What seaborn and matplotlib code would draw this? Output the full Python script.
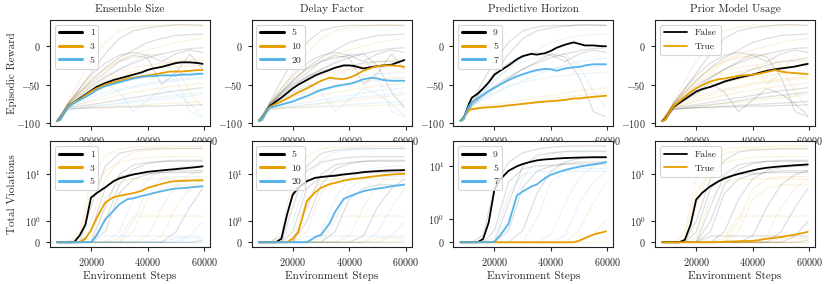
import matplotlib
matplotlib.use("Agg")

import matplotlib.pyplot as plt
import numpy as np
import pandas as pd
import seaborn as sns
from matplotlib.lines import Line2D
from matplotlib.ticker import FixedFormatter, FixedLocator, NullLocator


PALETTE = ["#000000", "#E69F00", "#56B4E9"]

TITLES = ["Ensemble Size", "Delay Factor", "Predictive Horizon", "Prior Model Usage"]
HUE_ORDERS = [["1", "3", "5"], ["5", "10", "20"], ["9", "5", "7"], ["False", "True"]]

# grille des courbes moyennes
MEAN_STEPS = [8000, 9000, 10000, 11000, 12000, 14000, 16000, 18000, 20000, 22000,
              25000, 28000, 30000, 33000, 35000, 38000, 40000, 42000, 45000, 48000,
              50000, 52000, 55000, 58000, 59500]

REWARD_ENSEMBLE = {
    "1": [-97, -96, -90, -83, -78, -73, -68, -63, -58, -53, -48, -44, -42, -39, -37, -34, -31, -29, -27, -24, -22, -21, -21, -22, -23],
    "3": [-97, -96, -90, -83, -78, -73, -69, -64, -59, -55, -50, -47, -45, -42, -41, -39, -38, -37, -35, -33, -33, -33, -32, -31, -31],
    "5": [-97, -96, -90, -83, -79, -74, -70, -66, -62, -57, -52, -49, -47, -44, -42, -40, -39, -39, -38, -38, -38, -37, -37, -36, -36],
}
REWARD_DELAY = {
    "5": [-97, -96, -90, -83, -78, -72, -67, -61, -55, -50, -44, -38, -35, -31, -28, -25, -25, -26, -29, -27, -26, -25, -24, -20, -18],
    "10": [-97, -96, -90, -83, -79, -75, -72, -68, -64, -60, -55, -49, -45, -41, -42, -43, -41, -38, -32, -28, -26, -25, -25, -26, -27],
    "20": [-97, -96, -90, -83, -80, -78, -76, -74, -72, -69, -65, -60, -57, -54, -52, -50, -49, -47, -43, -41, -42, -44, -45, -45, -45],
}
REWARD_HORIZON = {
    "9": [-97, -95, -85, -75, -67, -62, -55, -47, -37, -32, -25, -17, -13, -10, -11, -9, -6, -2, 2, 5, 3, 1, 1, 0, 0],
    "5": [-97, -95, -88, -83, -82, -81, -80, -79.5, -79, -78.5, -77, -76, -75, -74, -73, -72, -71.5, -71, -70, -68, -68, -67, -66, -65, -64.5],
    "7": [-97, -95, -86, -78, -73, -68, -63, -58, -54, -50, -44, -39, -36.5, -33, -31, -29.5, -30, -32, -29, -27.5, -27, -25, -23.5, -23.5, -23.5],
}
REWARD_PRIOR = {
    "False": [-97, -96, -90, -83, -79, -74, -69, -64, -59, -56, -53, -49, -46, -43, -41, -38.5, -37, -35, -32, -30, -29, -28, -26.5, -24, -23],
    "True": [-97, -96, -90, -83, -78, -72, -66, -60, -55, -51, -46, -43, -42, -40, -38.5, -37.5, -37, -36, -33.5, -31, -33, -34, -35, -36, -36.5],
}

VIOL_ENSEMBLE = {
    "1": [0, 0, 0, 0, 0, 0, 0.33, 0.83, 3.2, 4.0, 5.3, 7.2, 8.2, 9.3, 10, 10.8, 11.4, 11.7, 12.2, 12.7, 13, 13.4, 13.9, 14.5, 14.9],
    "3": [0, 0, 0, 0, 0, 0, 0, 0.17, 0.58, 1.18, 2.5, 3.3, 3.5, 3.8, 4.0, 4.5, 5.2, 5.6, 6.3, 7.0, 7.2, 7.3, 7.4, 7.5, 7.5],
    "5": [0, 0, 0, 0, 0, 0, 0, 0, 0, 0.33, 1.1, 1.7, 2.3, 3.0, 3.1, 3.5, 3.7, 4.0, 4.4, 4.8, 5.0, 5.1, 5.3, 5.5, 5.6],
}
VIOL_DELAY = {
    "5": [0, 0, 0, 0, 0, 0, 0.17, 1.4, 3.7, 5.2, 7.2, 8.5, 8.8, 9.2, 9.4, 10, 10.3, 10.6, 11.2, 11.6, 11.8, 12, 12.2, 12.3, 12.4],
    "10": [0, 0, 0, 0, 0, 0, 0, 0, 0.17, 0.5, 2.7, 4.2, 5.2, 6.2, 6.6, 7.4, 7.8, 8.1, 8.5, 9.0, 9.3, 9.6, 10, 10.2, 10.3],
    "20": [0, 0, 0, 0, 0, 0, 0, 0, 0, 0, 0, 0.25, 0.35, 0.9, 1.6, 3.0, 3.4, 3.8, 4.4, 4.8, 5.0, 5.2, 5.6, 5.9, 6.1],
}
VIOL_HORIZON = {
    "9": [0, 0, 0, 0, 0, 0, 0.14, 0.86, 3.6, 5.6, 8.2, 10, 11, 12.2, 12.9, 13.5, 13.7, 14, 14.3, 14.5, 14.6, 14.7, 14.8, 14.8, 14.8],
    "5": [0, 0, 0, 0, 0, 0, 0, 0, 0, 0, 0, 0, 0, 0, 0, 0, 0, 0, 0, 0, 0.07, 0.18, 0.33, 0.42, 0.47],
    "7": [0, 0, 0, 0, 0, 0, 0, 0, 0.03, 0.29, 0.79, 2.8, 3.3, 4.1, 4.5, 6.0, 6.9, 7.5, 8.5, 9.3, 9.8, 10.2, 10.8, 11.5, 12],
}
VIOL_PRIOR = {
    "False": [0, 0, 0, 0, 0, 0, 0.12, 0.83, 2.9, 4.0, 5.6, 7.2, 8.2, 9.5, 10.3, 11.4, 12.2, 13, 13.9, 14.5, 14.9, 15.2, 15.7, 16.1, 16.4],
    "True": [0, 0, 0, 0, 0, 0, 0, 0, 0, 0, 0, 0.01, 0.03, 0.04, 0.05, 0.06, 0.07, 0.1, 0.17, 0.22, 0.25, 0.3, 0.37, 0.45, 0.5],
}

# runs individuels (fond transparent)
BG_STEPS = [8000, 10000, 12000, 16000, 20000, 25000, 30000, 35000, 40000, 45000, 50000, 55000, 59500]

RUN_ENSEMBLE = ["3", "1", "1", "3", "5", "1", "3", "1", "5", "3", "5", "1", "3", "5", "3", "1",
                "5", "3", "1", "5", "3", "5"]
RUN_DELAY = ["5", "10", "5", "10", "20", "5", "10", "20", "10", "20", "20", "5", "10", "20", "5", "10",
             "20", "10", "5", "20", "5", "10"]
RUN_HORIZON = ["9", "9", "7", None, "9", None, "7", "5", "5", None, "7", "9", None, None, "7", None,
               None, "7", "9", "5", None, None]
RUN_PRIOR = ["True", "False", "False", "True", "False", "True", "False", "False", "True", "False",
             "True", "False", "True", "False", "True", "False",
             "True", "True", "False", "False", "True", "True"]

RUN_REWARDS = [
    [-97, -88, -72, -45, -20, 5, 20, 25, 27, 27, 27, 27, 27],
    [-97, -86, -75, -55, -35, -10, 10, 20, 24, 26, 28, 28, 27],
    [-97, -88, -76, -60, -45, -28, -15, -5, 5, 10, 14, 15, 16],
    [-97, -86, -74, -58, -42, -30, -18, -10, -5, 0, 5, 8, 10],
    [-97, -88, -77, -65, -55, -42, -30, -20, -10, -14, -40, -85, -92],
    [-97, -85, -74, -60, -48, -35, -20, -12, -15, -50, -35, -10, -30],
    [-97, -88, -78, -70, -62, -52, -45, -38, -30, -25, -20, -18, -15],
    [-97, -89, -80, -78, -76, -73, -70, -67, -64, -61, -58, -56, -54],
    [-97, -89, -81, -80, -79, -77, -75, -73, -71, -69, -67, -65, -63],
    [-97, -90, -82, -81, -80, -79, -78, -77, -76, -75, -74, -73, -72],
    [-97, -88, -78, -68, -60, -52, -47, -43, -40, -38, -36, -35, -34],
    [-97, -87, -76, -64, -52, -40, -30, -22, -15, -10, -6, -3, -2],
    [-97, -89, -80, -76, -72, -68, -64, -60, -57, -54, -52, -50, -48],
    [-97, -88, -79, -70, -60, -48, -60, -85, -70, -55, -62, -75, -90],
    [-97, -87, -75, -60, -45, -30, -20, -15, -12, -10, -25, -60, -80],
    [-97, -90, -82, -81, -80, -80, -79, -79, -78, -78, -77, -77, -76],
    [-97, -89, -80, -75, -70, -64, -58, -54, -50, -47, -45, -43, -42],
    [-97, -88, -78, -66, -55, -45, -38, -33, -30, -28, -27, -26, -25],
    [-97, -87, -74, -55, -38, -22, -12, -8, -12, -20, -10, -5, -8],
    [-97, -90, -82, -80, -78, -76, -74, -71, -68, -66, -64, -62, -60],
    [-97, -88, -76, -62, -50, -40, -32, -28, -25, -22, -20, -20, -19],
    [-97, -89, -79, -72, -66, -60, -56, -52, -48, -45, -43, -41, -40],
]
RUN_VIOLATIONS = [
    [0, 0, 0, 0.3, 4, 12, 18, 21, 23, 24, 24, 24, 24],
    [0, 0, 0, 0, 0, 0.5, 4, 8, 10, 11, 12, 12, 12],
    [0, 0, 0, 0, 0, 1, 6, 13, 17, 19, 20, 20, 20],
    [0, 0, 0, 0.5, 8, 25, 35, 38, 39, 40, 40, 40, 40],
    [0, 0, 0, 0, 0, 0, 0.5, 3, 8, 12, 14, 15, 15],
    [0, 0, 0, 0, 2, 15, 28, 33, 35, 36, 36, 36, 36],
    [0, 0, 0, 0, 0, 0, 0, 0, 0.3, 2, 6, 10, 12],
    [0, 0, 0, 0, 0, 0, 0, 0, 0, 0, 0.5, 2, 5],
    [0, 0, 0, 0, 0, 0, 0, 0, 0, 0, 0, 0, 0],
    [0, 0, 0, 0, 1, 8, 20, 30, 33, 34, 35, 35, 35],
    [0, 0, 0, 0, 0, 0, 0, 1, 5, 8, 9, 9, 9],
    [0, 0, 0, 0, 0.5, 5, 9, 10, 10.5, 11, 11, 11, 11],
    [0, 0, 0, 0, 0, 0, 0.2, 1.3, 1.3, 1.3, 1.3, 1.3, 1.3],
    [0, 0, 0, 0, 0, 0.3, 0.3, 0.3, 0.3, 0.3, 0.3, 0.3, 0.3],
    [0, 0, 0, 0, 0, 0, 0, 0, 0, 0.3, 2, 5, 8],
    [0, 0, 0, 0, 0, 0, 0, 0, 0, 0, 0, 0, 0.1],
    [0, 0, 0, 0, 0, 0, 0, 0, 0, 0, 0, 0, 0],
    [0, 0, 0, 0, 0.2, 3, 7, 8, 8, 8, 8, 8, 8],
    [0, 0, 0, 0, 0, 2, 10, 16, 18, 19, 19, 19, 19],
    [0, 0, 0, 0, 0, 0, 0, 0, 0, 0, 0, 0.3, 1],
    [0, 0, 0, 0, 0, 0, 0, 0.5, 3, 5, 6, 6, 6],
    [0, 0, 0, 0, 0, 0, 0, 0, 0, 0, 0.2, 0.2, 0.2],
]


def mean_frame(curves):
    rows = []
    for label, values in curves.items():
        for step, value in zip(MEAN_STEPS, values):
            rows.append({"step": step, "value": value, "group": label})
    return pd.DataFrame(rows)


def background_frame(runs, groups):
    rows = []
    for run_id, (values, group) in enumerate(zip(runs, groups)):
        if group is None:
            continue
        for step, value in zip(BG_STEPS, values):
            rows.append({"step": step, "value": value, "group": group, "run": run_id})
    return pd.DataFrame(rows)


def draw_panel(ax, curves, runs, groups, hue_order, legend_lw):
    palette = dict(zip(hue_order, PALETTE))

    bg_df = background_frame(runs, groups)
    sns.lineplot(
        data=bg_df, x="step", y="value", hue="group", units="run",
        estimator=None, hue_order=hue_order, palette=palette,
        alpha=0.13, linewidth=0.9, legend=False, ax=ax,
    )

    mean_df = mean_frame(curves)
    sns.lineplot(
        data=mean_df, x="step", y="value", hue="group",
        hue_order=hue_order, palette=palette,
        linewidth=1.3, legend=False, ax=ax,
    )

    handles = [Line2D([], [], color=palette[h], linewidth=legend_lw) for h in hue_order]
    ax.legend(handles, hue_order, loc="upper left", frameon=True, fontsize=7,
              handlelength=2.4)
    ax.set_xlabel("")
    ax.set_ylabel("")


def main():
    sns.set_theme(context="paper", style="ticks")
    plt.rcParams["font.family"] = ["cmr10", "DejaVu Serif"]
    plt.rcParams["mathtext.fontset"] = "cm"
    plt.rcParams["axes.formatter.use_mathtext"] = True
    plt.rcParams["axes.linewidth"] = 0.8
    plt.rcParams["axes.edgecolor"] = "#222222"
    plt.rcParams["xtick.major.size"] = 3
    plt.rcParams["ytick.major.size"] = 3
    plt.rcParams["xtick.major.width"] = 0.8
    plt.rcParams["ytick.major.width"] = 0.8
    plt.rcParams["xtick.labelsize"] = 7.3
    plt.rcParams["ytick.labelsize"] = 7.3

    fig, axes = plt.subplots(2, 4, figsize=(8.3, 2.84), dpi=100)
    fig.subplots_adjust(left=0.06, right=0.982, top=0.93, bottom=0.13,
                        wspace=0.26, hspace=0.15)

    reward_sets = [REWARD_ENSEMBLE, REWARD_DELAY, REWARD_HORIZON, REWARD_PRIOR]
    viol_sets = [VIOL_ENSEMBLE, VIOL_DELAY, VIOL_HORIZON, VIOL_PRIOR]
    run_groups = [RUN_ENSEMBLE, RUN_DELAY, RUN_HORIZON, RUN_PRIOR]

    for col in range(4):
        legend_lw = 2.2 if col < 3 else 1.3

        ax_top = axes[0, col]
        draw_panel(ax_top, reward_sets[col], RUN_REWARDS, run_groups[col],
                   HUE_ORDERS[col], legend_lw)
        ax_top.set_title(TITLES[col], fontsize=8)
        ax_top.set_yticks([-100, -50, 0])
        ax_top.set_xticks([20000, 40000, 60000])

        ax_bot = axes[1, col]
        ax_bot.set_yscale("symlog", linthresh=1, linscale=0.4)
        draw_panel(ax_bot, viol_sets[col], RUN_VIOLATIONS, run_groups[col],
                   HUE_ORDERS[col], legend_lw)
        ax_bot.yaxis.set_major_locator(FixedLocator([0, 1, 10]))
        ax_bot.yaxis.set_major_formatter(FixedFormatter([r"$0$", r"$10^{0}$", r"$10^{1}$"]))
        ax_bot.yaxis.set_minor_locator(NullLocator())
        ax_bot.set_xticks([20000, 40000, 60000])
        ax_bot.set_xlabel("Environment Steps", fontsize=8, labelpad=2)

    axes[0, 0].set_ylabel("Episodic Reward", fontsize=8)
    axes[1, 0].set_ylabel("Total Violations", fontsize=8)
    axes[0, 0].yaxis.set_label_coords(-0.205, 0.5)
    axes[1, 0].yaxis.set_label_coords(-0.205, 0.5)

    fig.savefig("out.png", dpi=100)
    plt.close(fig)


if __name__ == "__main__":
    main()
